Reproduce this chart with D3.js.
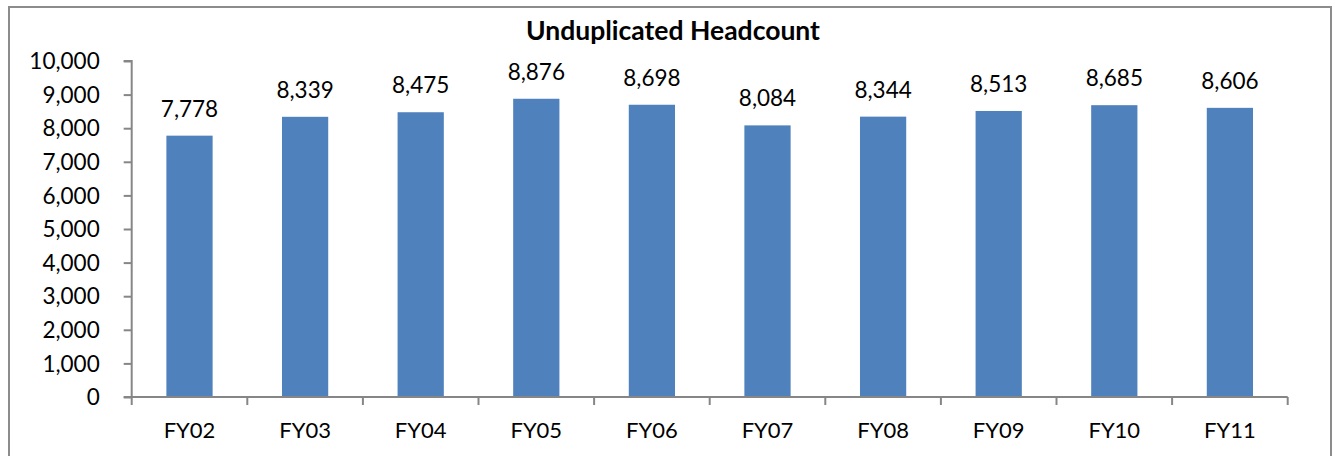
<!DOCTYPE html>
<html><head><meta charset="utf-8">
<script src="https://cdn.jsdelivr.net/npm/d3@7/dist/d3.min.js"></script>
<style>html,body{margin:0;padding:0;background:#fff;}svg{display:block;}</style>
</head><body>
<svg id="c" width="1335" height="456"></svg>
<script>
const categories = ["FY02","FY03","FY04","FY05","FY06","FY07","FY08","FY09","FY10","FY11"];
const headcount = [7778,8339,8475,8876,8698,8084,8344,8513,8685,8606];
const yTicks = [0,1000,2000,3000,4000,5000,6000,7000,8000,9000,10000];
const title = "Unduplicated Headcount";

const svg = d3.select("#c");
const font = "Lato, 'Open Sans', sans-serif";
const axisColor = "#868686";

// outer frame
svg.append("rect").attr("x",9).attr("y",7).attr("width",1322).attr("height",460)
  .attr("fill","#fff").attr("stroke","#8c8c8c").attr("stroke-width",2);

const x = d3.scaleBand().domain(categories).range([131.7,1287.7]).paddingInner(0.6).paddingOuter(0.3);
const y = d3.scaleLinear().domain([0,10000]).range([397,61]);
const fmt = d3.format(",");

// bars
svg.append("g").selectAll("rect").data(headcount).join("rect")
  .attr("x",(d,i)=>x(categories[i]))
  .attr("y",d=>y(d))
  .attr("width",x.bandwidth())
  .attr("height",d=>y(0)-y(d))
  .attr("fill","#4F81BD");

// data labels
svg.append("g").selectAll("text").data(headcount).join("text")
  .attr("x",(d,i)=>x(categories[i])+x.bandwidth()/2)
  .attr("y",d=>y(d)-19)
  .attr("text-anchor","middle")
  .style("font-family",font).style("font-size","22.5px").attr("fill","#000")
  .text(d=>fmt(d));

// y axis
const yAxis = d3.axisLeft(y).tickValues(yTicks).tickFormat(fmt).tickSize(8).tickPadding(24);
const gy = svg.append("g").attr("transform","translate(131.7,0)").call(yAxis);
gy.select(".domain").attr("stroke",axisColor).attr("stroke-width",2).attr("d","M-8,61H0V397H-8");
gy.selectAll(".tick line").attr("stroke",axisColor).attr("stroke-width",2);
gy.selectAll(".tick text").style("font-family",font).style("font-size","22.5px").attr("fill","#000").attr("dy","0.34em");

// x axis with boundary ticks
const xb = d3.scaleLinear().domain([0,categories.length]).range([131.7,1287.7]);
const gx = svg.append("g");
gx.append("line").attr("x1",131.7).attr("x2",1287.7).attr("y1",397).attr("y2",397)
  .attr("stroke",axisColor).attr("stroke-width",2);
gx.selectAll("line.t").data(d3.range(categories.length+1)).join("line").attr("class","t")
  .attr("x1",d=>xb(d)).attr("x2",d=>xb(d)).attr("y1",397).attr("y2",405)
  .attr("stroke",axisColor).attr("stroke-width",2);
gx.selectAll("text").data(categories).join("text")
  .attr("x",d=>x(d)+x.bandwidth()/2).attr("y",438)
  .attr("text-anchor","middle")
  .style("font-family",font).style("font-size","22px").attr("fill","#000")
  .text(d=>d);

// title
svg.append("text").attr("x",673).attr("y",40).attr("text-anchor","middle")
  .style("font-family",font).style("font-size","26.5px").style("font-weight","bold").attr("fill","#000")
  .text(title);
</script>
</body></html>
